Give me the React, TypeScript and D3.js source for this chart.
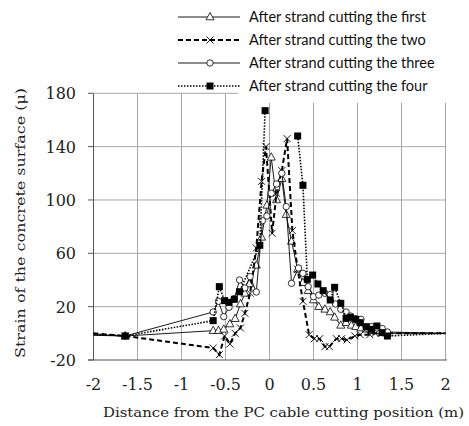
import React from 'react';
import * as d3 from 'd3';

// distance from the cutting position (m) and surface strain (μ) per series
const xFirst = [-2, -1.64, -0.64, -0.58, -0.52, -0.45, -0.39, -0.33, -0.28, -0.23, -0.15, -0.09, -0.03, 0.02, 0.08, 0.14, 0.19, 0.25, 0.32, 0.38, 0.44, 0.5, 0.56, 0.63, 0.69, 0.74, 0.81, 0.87, 0.93, 0.98, 1.04, 1.1, 1.16, 1.22, 1.28, 1.34, 2];
const yFirst = [-1, -2, 2, 2, 3, 7, 11, 22, 30, 37, 51, 72, 96, 132, 100, 116, 89, 69, 48, 38, 32, 25, 20, 18, 16, 12, 6, 8, 6, 5, 4, 3, 2, 2, 1, 0, 0];

const xTwo = [-2, -1.64, -0.64, -0.57, -0.51, -0.45, -0.39, -0.33, -0.28, -0.22, -0.15, -0.09, -0.04, 0.03, 0.08, 0.14, 0.2, 0.26, 0.32, 0.38, 0.45, 0.51, 0.57, 0.63, 0.68, 0.76, 0.82, 0.88, 0.97, 1.03, 1.14, 1.2, 1.27, 2];
const yTwo = [0, -2, -11, -16, -2, -8, 0, 4, 15, 30, 64, 114, 140, 75, 105, 122, 146, 77, 48, 24, -1, -4, -4, -10, -10, -4, -4, -5, -2, -1, -1, 0, 0, 0];

const xThree = [-2, -1.64, -0.64, -0.58, -0.52, -0.46, -0.4, -0.34, -0.28, -0.22, -0.15, -0.08, -0.03, 0.02, 0.08, 0.14, 0.19, 0.25, 0.33, 0.38, 0.44, 0.5, 0.56, 0.63, 0.69, 0.75, 0.81, 0.87, 0.92, 0.98, 1.04, 1.1, 1.16, 1.22, 1.28, 1.34, 2];
const yThree = [-1.5, -2, 16, 24, 12.5, 19.5, 26, 40, 34, 42.5, 31, 84.5, 88, 105, 112, 120, 95, 37.5, 49, 45, 35, 27.5, 28.7, 30, 29, 22, 18, 16, 13, 11, 10.5, 4, 5, 4, 3.7, 1, 0];

const xFour = [-2, -1.64, -0.64, -0.57, -0.51, -0.46, -0.4, -0.34, -0.11, -0.05, 0.1, 0.32, 0.38, 0.43, 0.49, 0.55, 0.61, 0.69, 0.74, 0.81, 0.87, 0.92, 0.98, 1.03, 1.1, 1.16, 1.22, 1.28, 1.34, 2];
const yFour: (number | null)[] = [-0.5, -2, 9.5, 35, 24.5, 23.2, 25.5, 31.2, 66, 167, null, 148, 111, 40.5, 43.7, 37, 32, 25, 34.5, 22.5, 11.2, 12, 10.5, 8, 5, 3, 5.5, 0.5, -2, 0];

const seriesNames = [
  'After strand cutting the first',
  'After strand cutting the two',
  'After strand cutting the three',
  'After strand cutting the four',
];
const xTicks = [-2, -1.5, -1, -0.5, 0, 0.5, 1, 1.5, 2];
const yTicks = [-20, 20, 60, 100, 140, 180];

const W = 469, H = 426;
const x = d3.scaleLinear().domain([-2, 2]).range([93.5, 445.5]);
const y = d3.scaleLinear().domain([-20, 180]).range([360, 93.3]);

type Kind = 'tri' | 'cross' | 'circle' | 'square';

function Marker({ kind, cx, cy }: { kind: Kind; cx: number; cy: number }) {
  if (kind === 'tri') {
    return <path d={`M${cx},${cy - 4.5}L${cx + 4},${cy + 2.8}L${cx - 4},${cy + 2.8}Z`} fill="#fff" stroke="#000" strokeWidth={0.8} />;
  }
  if (kind === 'cross') {
    const s = 3.5;
    return <path d={`M${cx - s},${cy - s}L${cx + s},${cy + s}M${cx - s},${cy + s}L${cx + s},${cy - s}`} stroke="#000" strokeWidth={0.9} />;
  }
  if (kind === 'circle') {
    return <circle cx={cx} cy={cy} r={3.2} fill="#fff" stroke="#000" strokeWidth={0.8} />;
  }
  return <rect x={cx - 3.5} y={cy - 3.5} width={7} height={7} fill="#000" />;
}

const series = [
  { xs: xFirst, ys: yFirst, kind: 'tri' as Kind, dash: undefined, width: 0.9 },
  { xs: xTwo, ys: yTwo, kind: 'cross' as Kind, dash: '5,3', width: 2 },
  { xs: xThree, ys: yThree, kind: 'circle' as Kind, dash: undefined, width: 0.9 },
  { xs: xFour, ys: yFour, kind: 'square' as Kind, dash: '1.5,1.5', width: 1.6 },
];

export default function App() {
  const line = d3.line<[number, number | null]>()
    .defined(d => d[1] !== null)
    .x(d => x(d[0]))
    .y(d => y(d[1] as number));

  return (
    <svg width={W} height={H} style={{ position: 'absolute', left: 0, top: 0, background: '#fff' }}>
      {/* grid */}
      {yTicks.filter(t => t > -20).map(t => (
        <line key={'gy' + t} x1={x(-2)} x2={t === 180 ? 238 : x(2)} y1={y(t)} y2={y(t)} stroke="#a6a6a6" strokeWidth={1} />
      ))}
      {xTicks.filter(t => t > -2).map(t => (
        <line key={'gx' + t} x1={x(t)} x2={x(t)} y1={x(t) > 238 ? 103 : y(180)} y2={y(-20)} stroke="#a6a6a6" strokeWidth={1} />
      ))}
      {/* axes */}
      <line x1={x(-2)} x2={x(-2)} y1={y(180)} y2={y(-20)} stroke="#555" strokeWidth={1} />
      <line x1={88} x2={447} y1={y(-20)} y2={y(-20)} stroke="#555" strokeWidth={1} />
      {yTicks.map(t => (
        <g key={'ty' + t}>
          <line x1={88} x2={x(-2)} y1={y(t)} y2={y(t)} stroke="#555" />
          <text x={76} y={y(t) + 6} textAnchor="end" fontFamily="DejaVu Serif" fontSize={16} fill="#222">{t}</text>
        </g>
      ))}
      {xTicks.map(t => (
        <text key={'tx' + t} x={x(t)} y={390} textAnchor="middle" fontFamily="DejaVu Serif" fontSize={16} fill="#222">{t}</text>
      ))}
      <text transform={`translate(25,223) rotate(-90)`} textAnchor="middle" fontFamily="DejaVu Serif" fontSize={13} fill="#222" textLength={270} lengthAdjust="spacingAndGlyphs">Strain of the concrete surface (μ)</text>
      <text x={283.5} y={417} textAnchor="middle" fontFamily="DejaVu Serif" fontSize={13} fill="#222" textLength={361} lengthAdjust="spacingAndGlyphs">Distance from the PC cable cutting position (m)</text>

      {/* series */}
      {series.map((s, i) => {
        const pts = s.xs.map((v, j) => [v, s.ys[j]] as [number, number | null]);
        return (
          <g key={'s' + i}>
            <path d={line(pts) || ''} fill="none" stroke="#000" strokeWidth={s.width} strokeDasharray={s.dash} />
            {pts.filter(p => p[1] !== null && Math.abs(p[0]) < 2).map((p, j) => (
              <Marker key={j} kind={s.kind} cx={x(p[0])} cy={y(p[1] as number)} />
            ))}
          </g>
        );
      })}

      {/* legend */}
      {seriesNames.map((name, i) => {
        const ly = 17 + i * 23;
        const s = series[i];
        return (
          <g key={'l' + i}>
            <line x1={178} x2={240} y1={ly} y2={ly} stroke="#000" strokeWidth={s.width} strokeDasharray={s.dash} />
            <Marker kind={s.kind} cx={210} cy={ly} />
            <text x={249} y={ly + 5} fontFamily="Lato" fontSize={14.5} fill="#111">{name}</text>
          </g>
        );
      })}
    </svg>
  );
}
